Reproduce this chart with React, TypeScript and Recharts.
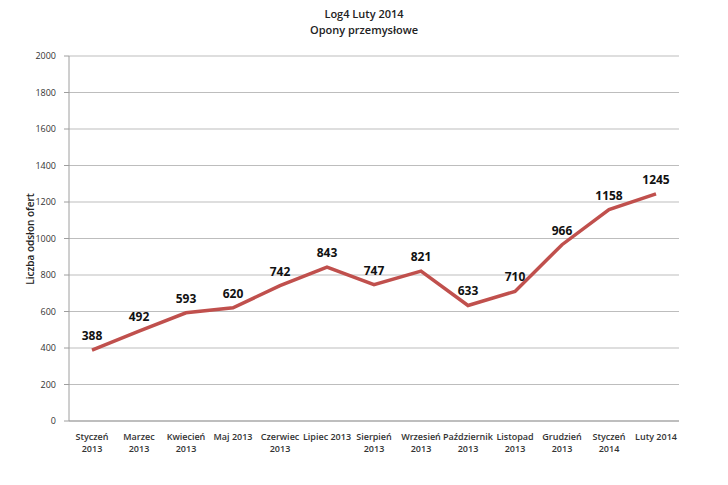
import React from "react";
import {
  CartesianGrid,
  LabelList,
  Line,
  LineChart,
  XAxis,
  YAxis,
} from "recharts";

const months = [
  "Styczeń\n2013",
  "Marzec\n2013",
  "Kwiecień\n2013",
  "Maj 2013",
  "Czerwiec\n2013",
  "Lipiec 2013",
  "Sierpień\n2013",
  "Wrzesień\n2013",
  "Październik\n2013",
  "Listopad\n2013",
  "Grudzień\n2013",
  "Styczeń\n2014",
  "Luty 2014",
];

const views = [388, 492, 593, 620, 742, 843, 747, 821, 633, 710, 966, 1158, 1245];

const yTicks = [0, 200, 400, 600, 800, 1000, 1200, 1400, 1600, 1800, 2000];

const chartData = months.map((m, i) => ({ month: m, value: views[i] }));

const FONT = "'Open Sans', 'Liberation Sans', sans-serif";

// two-line category labels like in the excel original
const MonthTick = (props: any) => {
  const { x, y, payload } = props;
  const lines = String(payload.value).split("\n");
  return (
    <g transform={`translate(${x},${y})`}>
      {lines.map((line: string, i: number) => (
        <text
          key={i}
          x={0}
          y={i * 12}
          dy={11}
          textAnchor="middle"
          fill="#333"
          fontSize={9}
          fontWeight={600}
          fontFamily={FONT}
        >
          {line}
        </text>
      ))}
    </g>
  );
};

export default function App() {
  return (
    <div
      style={{
        position: "absolute",
        left: 0,
        top: 0,
        width: 728,
        height: 485,
        background: "#fff",
        fontFamily: FONT,
      }}
    >
      <div
        style={{
          position: "absolute",
          top: 6,
          left: 0,
          width: 728,
          textAlign: "center",
          fontSize: 11,
          fontWeight: 600,
          lineHeight: "16px",
          color: "#222",
        }}
      >
        Log4 Luty 2014
        <br />
        Opony przemysłowe
      </div>
      <div
        style={{
          position: "absolute",
          left: 30,
          top: 239,
          transform: "translate(-50%, -50%) rotate(-90deg)",
          fontSize: 10,
          fontWeight: 600,
          whiteSpace: "nowrap",
          color: "#222",
        }}
      >
        Liczba odsłon ofert
      </div>
      <LineChart
        width={728}
        height={485}
        data={chartData}
        margin={{ top: 56, right: 49, bottom: 0, left: 0 }}
        style={{ position: "absolute", left: 0, top: 0 }}
      >
        <CartesianGrid vertical={false} stroke="#BDBDBD" strokeWidth={1} />
        <XAxis
          dataKey="month"
          interval={0}
          tick={<MonthTick />}
          tickLine={false}
          axisLine={{ stroke: "#9E9E9E" }}
          height={64}
          padding={{ left: 23, right: 23 }}
        />
        <YAxis
          width={69}
          domain={[0, 2000]}
          ticks={yTicks}
          tickSize={5}
          tickMargin={8}
          tickLine={{ stroke: "#9E9E9E" }}
          axisLine={{ stroke: "#9E9E9E" }}
          tick={{ fontSize: 9, fill: "#333", fontFamily: FONT }}
        />
        <Line
          type="linear"
          dataKey="value"
          stroke="#C0504D"
          strokeWidth={3.5}
          dot={false}
          isAnimationActive={false}
        >
          <LabelList
            dataKey="value"
            position="top"
            offset={10}
            fill="#111"
            fontSize={12}
            fontWeight={700}
            fontFamily={FONT}
          />
        </Line>
      </LineChart>
    </div>
  );
}
